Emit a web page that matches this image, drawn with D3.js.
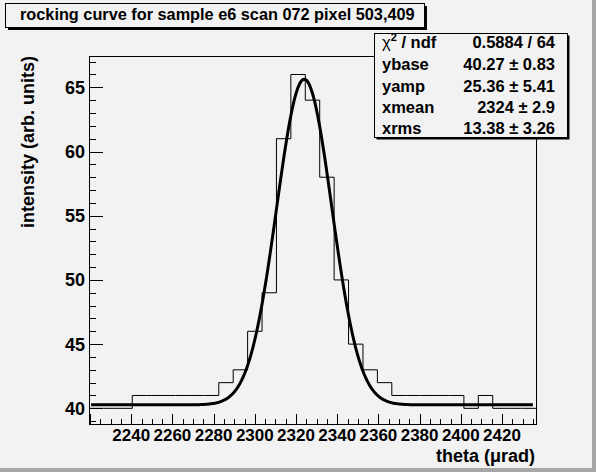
<!DOCTYPE html>
<html>
<head>
<meta charset="utf-8">
<script src="https://cdn.jsdelivr.net/npm/d3@7"></script>
<style>
  html, body { margin: 0; padding: 0; background: #f2f2f2; }
  svg { display: block; }
  text { font-family: "Liberation Sans", Arial, Helvetica, sans-serif; font-weight: bold; fill: #000; }
</style>
</head>
<body>
<div id="chart"></div>
<script>
// histogram bins (theta, bin centres) and their contents
var thetaCenters = [2223, 2230, 2237, 2244, 2251, 2258, 2265, 2272, 2279, 2286,
  2293, 2300, 2307, 2314, 2321, 2328, 2335, 2342, 2349, 2356,
  2363, 2370, 2377, 2384, 2391, 2398, 2405, 2412, 2419, 2426, 2433];
var binWidth = 7;
var counts = [40, 40, 40, 41, 41, 41, 41, 41, 41, 42,
  43, 46, 49, 61, 66, 64, 58, 50, 45, 43,
  42, 41, 41, 41, 41, 41, 40, 41, 40, 40, 40];

// fit result (gaussian + flat base)
var fitNames = ["ybase", "yamp", "xmean", "xrms"];
var fitValues = [40.27, 25.36, 2324, 13.38];
var fitErrors = ["0.83", "5.41", "2.9", "3.26"];
var fitValueText = ["40.27", "25.36", "2324", "13.38"];
var chi2ndf = "0.5884 / 64";

var xTicks = [2240, 2260, 2280, 2300, 2320, 2340, 2360, 2380, 2400, 2420];
var yTicks = [40, 45, 50, 55, 60, 65];

var titleText = "rocking curve for sample e6 scan 072 pixel 503,409";
var xTitle = "theta (\u03bcrad)";
var yTitle = "intensity (arb. units)";

var W = 596, H = 472;
var frame = { left: 89, right: 536, top: 56, bottom: 424 };

var svg = d3.select("#chart").append("svg")
  .attr("width", W)
  .attr("height", H);

// canvas + bevel
svg.append("rect").attr("width", W).attr("height", H).attr("fill", "#f2f2f2");
svg.append("rect").attr("x", 0).attr("y", H - 4).attr("width", W).attr("height", 4).attr("fill", "#a6a6a6");
svg.append("rect").attr("x", W - 4).attr("y", 0).attr("width", 4).attr("height", H).attr("fill", "#a6a6a6");

var x = d3.scaleLinear()
  .domain([thetaCenters[0] - binWidth / 2, thetaCenters[thetaCenters.length - 1] + binWidth / 2])
  .range([frame.left, frame.right]);
var y = d3.scaleLinear().domain([38.78, 67.44]).range([frame.bottom, frame.top]);

// frame
svg.append("rect")
  .attr("x", frame.left + 0.5).attr("y", frame.top + 0.5)
  .attr("width", frame.right - frame.left).attr("height", frame.bottom - frame.top)
  .attr("fill", "none").attr("stroke", "#000").attr("stroke-width", 1);

// y axis ticks (inside the frame)
var yMinor = d3.range(39, 68, 1);
svg.append("g").selectAll("line")
  .data(yMinor)
  .enter().append("line")
  .attr("x1", frame.left)
  .attr("x2", function (d) { return frame.left + (d % 5 === 0 ? 14 : 7); })
  .attr("y1", function (d) { return Math.round(y(d)) + 0.5; })
  .attr("y2", function (d) { return Math.round(y(d)) + 0.5; })
  .attr("stroke", "#000");

svg.append("g").selectAll("text")
  .data(yTicks)
  .enter().append("text")
  .attr("x", 85)
  .attr("y", function (d) { return y(d) + 6.5; })
  .attr("text-anchor", "end")
  .style("font-size", "18px")
  .text(function (d) { return d; });

// x axis ticks
var xMinor = d3.range(2220, 2437, 5);
svg.append("g").selectAll("line")
  .data(xMinor)
  .enter().append("line")
  .attr("x1", function (d) { return Math.round(x(d)) + 0.5; })
  .attr("x2", function (d) { return Math.round(x(d)) + 0.5; })
  .attr("y1", frame.bottom)
  .attr("y2", function (d) { return frame.bottom - (d % 20 === 0 ? 10 : 5); })
  .attr("stroke", "#000");

svg.append("g").selectAll("text")
  .data(xTicks)
  .enter().append("text")
  .attr("x", function (d) { return x(d); })
  .attr("y", 441)
  .attr("text-anchor", "middle")
  .style("font-size", "17px")
  .text(function (d) { return d; });

// axis titles
svg.append("text")
  .attr("x", frame.right - 1)
  .attr("y", 462)
  .attr("text-anchor", "end")
  .style("font-size", "18px")
  .text(xTitle);

svg.append("text")
  .attr("transform", "translate(34," + frame.top + ") rotate(-90)")
  .attr("text-anchor", "end")
  .style("font-size", "18px")
  .text(yTitle);

// histogram as steps
var stepPts = thetaCenters.map(function (c, i) { return [c - binWidth / 2, counts[i]]; });
stepPts.push([thetaCenters[thetaCenters.length - 1] + binWidth / 2, counts[counts.length - 1]]);
svg.append("path")
  .datum(stepPts)
  .attr("fill", "none")
  .attr("stroke", "#000")
  .attr("stroke-width", 1)
  .attr("d", d3.line()
    .x(function (d) { return x(d[0]); })
    .y(function (d) { return y(d[1]); })
    .curve(d3.curveStepAfter));

// fitted gaussian
function fitFn(t) {
  var z = (t - fitValues[2]) / fitValues[3];
  return fitValues[0] + fitValues[1] * Math.exp(-0.5 * z * z);
}
var fitX = d3.range(x.domain()[0] + 1, x.domain()[1] - 1, 0.5);
svg.append("path")
  .datum(fitX)
  .attr("fill", "none")
  .attr("stroke", "#000")
  .attr("stroke-width", 3)
  .attr("d", d3.line()
    .x(function (d) { return x(d); })
    .y(function (d) { return y(fitFn(d)); }));

// title box
svg.append("rect").attr("x", 8).attr("y", 6).attr("width", 419).attr("height", 24).attr("fill", "#000");
svg.append("rect").attr("x", 5.5).attr("y", 3.5).attr("width", 419).attr("height", 24)
  .attr("fill", "#f2f2f2").attr("stroke", "#000");
svg.append("text")
  .attr("x", 20)
  .attr("y", 20)
  .style("font-size", "16.3px")
  .text(titleText);

// stats box
var sb = { x: 374, y: 33, w: 193, h: 104 };
svg.append("rect").attr("x", sb.x + 2.5).attr("y", sb.y + 2.5).attr("width", sb.w).attr("height", sb.h).attr("fill", "#000");
svg.append("rect").attr("x", sb.x + 0.5).attr("y", sb.y + 0.5).attr("width", sb.w).attr("height", sb.h)
  .attr("fill", "#f2f2f2").attr("stroke", "#000");

var rowY = [47.5, 69.5, 91.5, 113, 134];
var chiLabel = svg.append("text").attr("x", 382).attr("y", rowY[0]).style("font-size", "16.5px");
chiLabel.append("tspan").style("font-weight", "normal").text("\u03c7");
chiLabel.append("tspan").attr("dy", -7).style("font-size", "11px").text("2");
chiLabel.append("tspan").attr("dy", 7).text(" / ndf");
svg.append("text").attr("x", 555).attr("y", rowY[0]).attr("text-anchor", "end")
  .style("font-size", "16.5px").text(chi2ndf);

svg.append("g").selectAll("text")
  .data(fitNames)
  .enter().append("text")
  .attr("x", 382)
  .attr("y", function (d, i) { return rowY[i + 1]; })
  .style("font-size", "16.5px")
  .text(function (d) { return d; });

svg.append("g").selectAll("text")
  .data(fitNames)
  .enter().append("text")
  .attr("x", 555)
  .attr("y", function (d, i) { return rowY[i + 1]; })
  .attr("text-anchor", "end")
  .style("font-size", "16.5px")
  .text(function (d, i) { return fitValueText[i] + " \u00b1 " + fitErrors[i]; });
</script>
</body>
</html>
